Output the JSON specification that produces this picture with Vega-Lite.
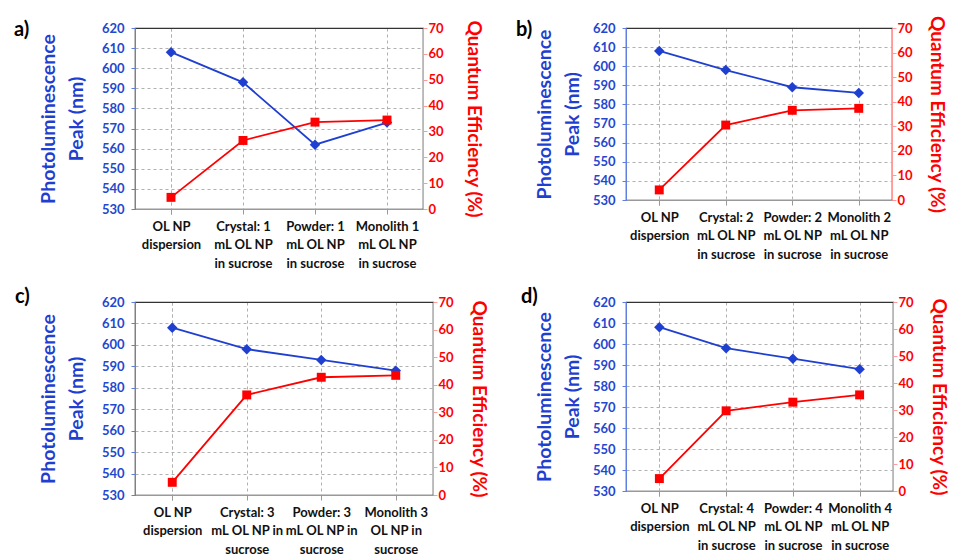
{
  "$schema": "https://vega.github.io/schema/vega-lite/v6.json",
  "padding": {"left": 13, "top": 14, "right": 10, "bottom": 0},
  "background": "white",
  "config": {
    "font": "Lato",
    "view": {"stroke": "#333", "strokeWidth": 1.2},
    "title": {"fontSize": 20, "fontWeight": "bold", "color": "black", "anchor": "start", "frame": "group", "baseline": "bottom", "offset": 0},
    "axisX": {"title": null, "labelExpr": "split(datum.label, '|')", "labelAngle": 0, "labelFontSize": 13, "labelFontWeight": "bold", "labelColor": "#111", "labelLineHeight": 18.5, "labelPadding": 6, "labelLimit": 0, "labelOverlap": false, "labelBound": false, "tickBand": "extent", "grid": true, "gridDash": [3, 3], "gridColor": "#b0b0b0", "domainColor": "#999", "tickColor": "#999", "tickSize": 5},
    "axisLeft": {"titleColor": "#1f3fd0", "titleFontSize": 19.5, "titleFontWeight": "bold", "titleLineHeight": 28, "titlePadding": 15, "labelColor": "#2447d0", "labelFontSize": 13, "labelFontWeight": "bold", "domainColor": "#6080e0", "tickColor": "#6080e0", "tickSize": 4, "grid": true, "gridDash": {"condition": {"test": "datum.value == 620", "value": []}, "value": [3, 3]}, "gridColor": {"condition": {"test": "datum.value == 620", "value": "#333"}, "value": "#b0b0b0"}, "labelPadding": 7},
    "axisRight": {"titleColor": "#ff0000", "titleFontSize": 19, "titleFontWeight": "bold", "titlePadding": 10, "labelColor": "#ff0000", "labelFontSize": 13, "labelFontWeight": "bold", "domainColor": "#ff9a9a", "tickColor": "#ff9a9a", "tickSize": 4, "grid": false, "labelPadding": 1}
  },
  "data": {"values": [
    {"panel": "a", "cat": "OL NP|dispersion", "pl": 608, "qe": 4.5},
    {"panel": "a", "cat": "Crystal: 1|mL OL NP|in sucrose", "pl": 593, "qe": 26.5},
    {"panel": "a", "cat": "Powder: 1|mL OL NP|in sucrose", "pl": 562, "qe": 33.6},
    {"panel": "a", "cat": "Monolith 1|mL OL NP|in sucrose", "pl": 573, "qe": 34.4},
    {"panel": "b", "cat": "OL NP|dispersion", "pl": 608, "qe": 4.1},
    {"panel": "b", "cat": "Crystal: 2|mL OL NP|in sucrose", "pl": 598, "qe": 30.5},
    {"panel": "b", "cat": "Powder: 2|mL OL NP|in sucrose", "pl": 589, "qe": 36.5},
    {"panel": "b", "cat": "Monolith 2|mL OL NP|in sucrose", "pl": 586, "qe": 37.3},
    {"panel": "c", "cat": "OL NP|dispersion", "pl": 608, "qe": 4.6},
    {"panel": "c", "cat": "Crystal: 3|mL OL NP in|sucrose", "pl": 598, "qe": 36.3},
    {"panel": "c", "cat": "Powder: 3|mL OL NP in|sucrose", "pl": 593, "qe": 42.7},
    {"panel": "c", "cat": "Monolith 3|OL NP in|sucrose", "pl": 588, "qe": 43.4},
    {"panel": "d", "cat": "OL NP|dispersion", "pl": 608, "qe": 4.6},
    {"panel": "d", "cat": "Crystal: 4|mL OL NP|in sucrose", "pl": 598, "qe": 29.7},
    {"panel": "d", "cat": "Powder: 4|mL OL NP|in sucrose", "pl": 593, "qe": 32.9},
    {"panel": "d", "cat": "Monolith 4|mL OL NP|in sucrose", "pl": 588, "qe": 35.6}
  ]},
  "bounds": "flush",
  "columns": 2,
  "spacing": {"row": 93, "column": 193},
  "concat": [
    {
      "width": 288, "height": 181,
      "title": {"text": "a)", "dx": -121, "dy": 24},
      "transform": [{"filter": "datum.panel === 'a'"}],
      "encoding": {"x": {"field": "cat", "type": "nominal", "sort": null, "scale": {"paddingInner": 0, "paddingOuter": 0}}},
      "layer": [
        {"mark": {"type": "line", "color": "#1f3fd0", "strokeWidth": 1.8, "point": {"shape": "diamond", "size": 110, "filled": true, "color": "#1f3fd0", "opacity": 1}},
         "encoding": {"y": {"field": "pl", "type": "quantitative", "scale": {"domain": [530, 620], "nice": false, "zero": false}, "axis": {"orient": "left", "values": [530, 540, 550, 560, 570, 580, 590, 600, 610, 620], "title": ["Photoluminescence", "Peak (nm)"]}}}},
        {"mark": {"type": "line", "color": "#ff0000", "strokeWidth": 1.8, "point": {"shape": "square", "size": 80, "filled": true, "color": "#ff0000", "opacity": 1}},
         "encoding": {"y": {"field": "qe", "type": "quantitative", "scale": {"domain": [0, 70], "nice": false}, "axis": {"orient": "right", "values": [0, 10, 20, 30, 40, 50, 60, 70], "title": "Quantum Efficiency (%)", "titlePadding": 20}}}}
      ],
      "resolve": {"scale": {"y": "independent"}}
    },
    {
      "width": 266, "height": 172,
      "title": {"text": "b)", "dx": -110, "dy": 29},
      "transform": [{"filter": "datum.panel === 'b'"}],
      "encoding": {"x": {"field": "cat", "type": "nominal", "sort": null, "scale": {"paddingInner": 0, "paddingOuter": 0}}},
      "layer": [
        {"mark": {"type": "line", "color": "#1f3fd0", "strokeWidth": 1.8, "point": {"shape": "diamond", "size": 110, "filled": true, "color": "#1f3fd0", "opacity": 1}},
         "encoding": {"y": {"field": "pl", "type": "quantitative", "scale": {"domain": [530, 620], "nice": false, "zero": false}, "axis": {"orient": "left", "values": [530, 540, 550, 560, 570, 580, 590, 600, 610, 620], "title": ["Photoluminescence", "Peak (nm)"], "titlePadding": 10}}}},
        {"mark": {"type": "line", "color": "#ff0000", "strokeWidth": 1.8, "point": {"shape": "square", "size": 80, "filled": true, "color": "#ff0000", "opacity": 1}},
         "encoding": {"y": {"field": "qe", "type": "quantitative", "scale": {"domain": [0, 70], "nice": false}, "axis": {"orient": "right", "values": [0, 10, 20, 30, 40, 50, 60, 70], "title": "Quantum Efficiency (%)", "titlePadding": 14}}}}
      ],
      "resolve": {"scale": {"y": "independent"}}
    },
    {
      "width": 298, "height": 193,
      "title": {"text": "c)", "dx": -120, "dy": 15},
      "transform": [{"filter": "datum.panel === 'c'"}],
      "encoding": {"x": {"field": "cat", "type": "nominal", "sort": null, "scale": {"paddingInner": 0, "paddingOuter": 0}}},
      "layer": [
        {"mark": {"type": "line", "color": "#1f3fd0", "strokeWidth": 1.8, "point": {"shape": "diamond", "size": 110, "filled": true, "color": "#1f3fd0", "opacity": 1}},
         "encoding": {"y": {"field": "pl", "type": "quantitative", "scale": {"domain": [530, 620], "nice": false, "zero": false}, "axis": {"orient": "left", "values": [530, 540, 550, 560, 570, 580, 590, 600, 610, 620], "title": ["Photoluminescence", "Peak (nm)"]}}}},
        {"mark": {"type": "line", "color": "#ff0000", "strokeWidth": 1.8, "point": {"shape": "square", "size": 80, "filled": true, "color": "#ff0000", "opacity": 1}},
         "encoding": {"y": {"field": "qe", "type": "quantitative", "scale": {"domain": [0, 70], "nice": false}, "axis": {"orient": "right", "values": [0, 10, 20, 30, 40, 50, 60, 70], "title": "Quantum Efficiency (%)", "titlePadding": 15}}}}
      ],
      "resolve": {"scale": {"y": "independent"}}
    },
    {
      "width": 267, "height": 189,
      "title": {"text": "d)", "dx": -105, "dy": 15},
      "transform": [{"filter": "datum.panel === 'd'"}],
      "encoding": {"x": {"field": "cat", "type": "nominal", "sort": null, "scale": {"paddingInner": 0, "paddingOuter": 0}}},
      "layer": [
        {"mark": {"type": "line", "color": "#1f3fd0", "strokeWidth": 1.8, "point": {"shape": "diamond", "size": 110, "filled": true, "color": "#1f3fd0", "opacity": 1}},
         "encoding": {"y": {"field": "pl", "type": "quantitative", "scale": {"domain": [530, 620], "nice": false, "zero": false}, "axis": {"orient": "left", "values": [530, 540, 550, 560, 570, 580, 590, 600, 610, 620], "title": ["Photoluminescence", "Peak (nm)"], "titlePadding": 10}}}},
        {"mark": {"type": "line", "color": "#ff0000", "strokeWidth": 1.8, "point": {"shape": "square", "size": 80, "filled": true, "color": "#ff0000", "opacity": 1}},
         "encoding": {"y": {"field": "qe", "type": "quantitative", "scale": {"domain": [0, 70], "nice": false}, "axis": {"orient": "right", "values": [0, 10, 20, 30, 40, 50, 60, 70], "title": "Quantum Efficiency (%)", "titlePadding": 15}}}}
      ],
      "resolve": {"scale": {"y": "independent"}}
    }
  ]
}
